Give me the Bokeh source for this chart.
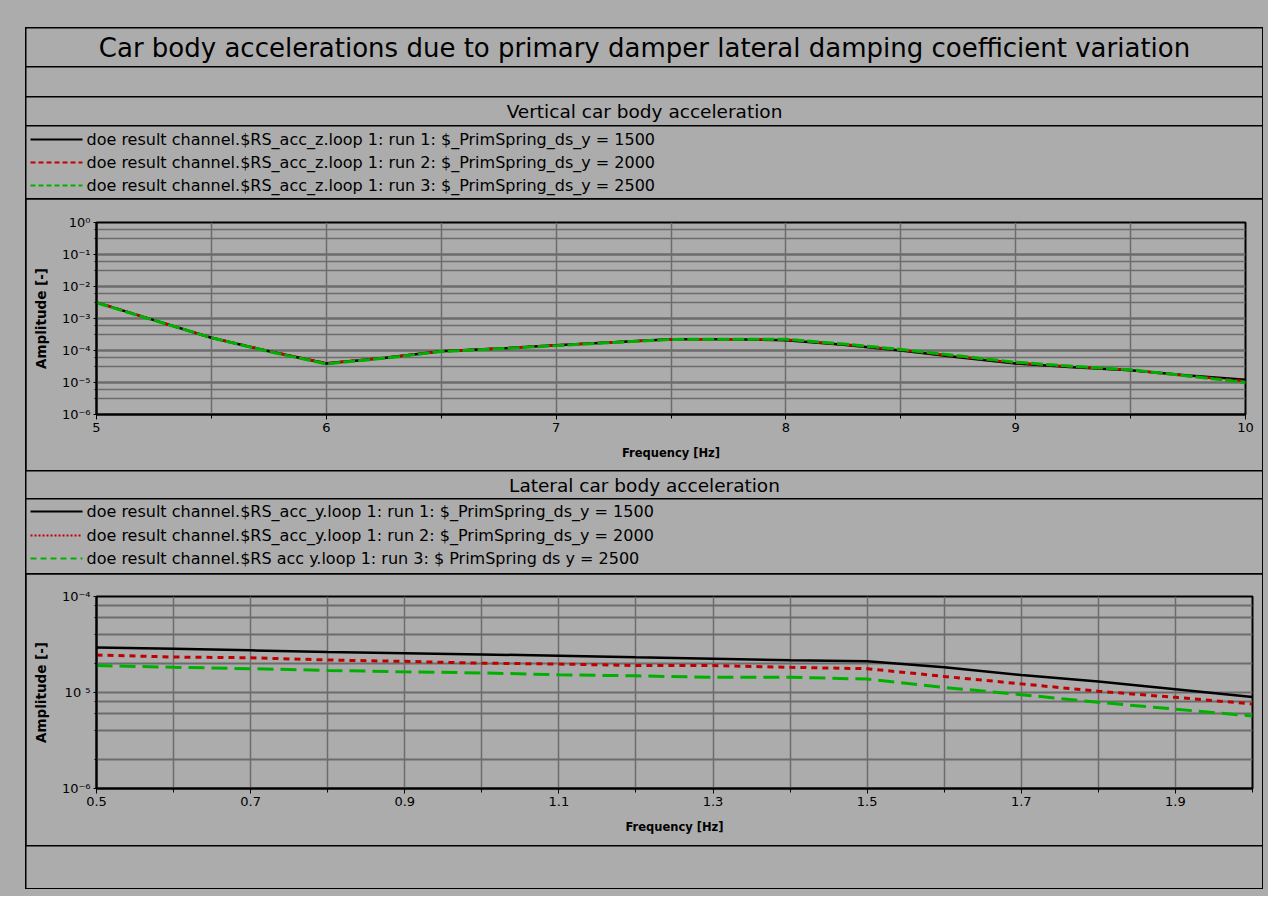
from bokeh.plotting import figure
from bokeh.models import Range1d, FixedTicker, CustomJSTickFormatter, Column
from bokeh.core.properties import value
from bokeh.embed import file_html
from bokeh.resources import INLINE

# ---------------- data ----------------
title_text = "Car body accelerations due to primary damper lateral damping coefficient variation"
sub_vertical = "Vertical car body acceleration"
sub_lateral = "Lateral car body acceleration"

legend_vertical = [
    "doe result channel.$RS_acc_z.loop 1: run 1: $_PrimSpring_ds_y = 1500",
    "doe result channel.$RS_acc_z.loop 1: run 2: $_PrimSpring_ds_y = 2000",
    "doe result channel.$RS_acc_z.loop 1: run 3: $_PrimSpring_ds_y = 2500",
]
legend_lateral = [
    "doe result channel.$RS_acc_y.loop 1: run 1: $_PrimSpring_ds_y = 1500",
    "doe result channel.$RS_acc_y.loop 1: run 2: $_PrimSpring_ds_y = 2000",
    "doe result channel.$RS acc y.loop 1: run 3: $ PrimSpring ds y = 2500",
]

freq_vertical = [5.0, 5.25, 5.5, 5.75, 6.0, 6.25, 6.5, 6.75, 7.0, 7.25, 7.5,
                 7.75, 8.0, 8.25, 8.5, 8.75, 9.0, 9.25, 9.5, 9.75, 10.0]
acc_z_1500 = [3.2e-3, 8.9e-4, 2.5e-4, 9.5e-5, 3.9e-5, 5.8e-5, 9.5e-5, 1.15e-4, 1.45e-4, 1.8e-4, 2.25e-4,
              2.25e-4, 2.1e-4, 1.5e-4, 1.0e-4, 6.2e-5, 3.9e-5, 3.0e-5, 2.4e-5, 1.65e-5, 1.23e-5]
acc_z_2000 = [3.2e-3, 8.9e-4, 2.5e-4, 9.6e-5, 4.0e-5, 5.9e-5, 9.4e-5, 1.16e-4, 1.45e-4, 1.82e-4, 2.25e-4,
              2.25e-4, 2.2e-4, 1.55e-4, 1.04e-4, 6.5e-5, 4.1e-5, 3.1e-5, 2.45e-5, 1.6e-5, 1.1e-5]
acc_z_2500 = [3.1e-3, 8.8e-4, 2.5e-4, 9.3e-5, 3.8e-5, 5.7e-5, 9.3e-5, 1.13e-4, 1.42e-4, 1.78e-4, 2.22e-4,
              2.25e-4, 2.25e-4, 1.6e-4, 1.08e-4, 6.8e-5, 4.3e-5, 3.2e-5, 2.5e-5, 1.6e-5, 1.0e-5]

freq_lateral = [0.5, 0.6, 0.7, 0.8, 0.9, 1.0, 1.1, 1.2, 1.3, 1.4, 1.5, 1.6, 1.7, 1.8, 1.9, 2.0]
acc_y_1500 = [2.95e-5, 2.85e-5, 2.75e-5, 2.64e-5, 2.56e-5, 2.49e-5, 2.42e-5, 2.33e-5,
              2.25e-5, 2.17e-5, 2.12e-5, 1.83e-5, 1.52e-5, 1.30e-5, 1.08e-5, 0.90e-5]
acc_y_2000 = [2.46e-5, 2.34e-5, 2.30e-5, 2.18e-5, 2.11e-5, 2.02e-5, 1.98e-5, 1.91e-5,
              1.91e-5, 1.83e-5, 1.77e-5, 1.47e-5, 1.23e-5, 1.03e-5, 0.89e-5, 0.76e-5]
acc_y_2500 = [1.91e-5, 1.83e-5, 1.77e-5, 1.70e-5, 1.64e-5, 1.60e-5, 1.53e-5, 1.49e-5,
              1.44e-5, 1.44e-5, 1.38e-5, 1.13e-5, 0.95e-5, 0.79e-5, 0.67e-5, 0.57e-5]

x_ticks_vertical = [5, 6, 7, 8, 9, 10]
x_minor_vertical = [5.5, 6.5, 7.5, 8.5, 9.5]
x_ticks_lateral = [0.5, 0.7, 0.9, 1.1, 1.3, 1.5, 1.7, 1.9]
x_minor_lateral = [0.6, 0.8, 1.0, 1.2, 1.4, 1.6, 1.8, 2.0]
y_exps_vertical = [-6, -5, -4, -3, -2, -1, 0]
y_labels_vertical = ["10\u207b\u2076", "10\u207b\u2075", "10\u207b\u2074", "10\u207b\u00b3",
                     "10\u207b\u00b2", "10\u207b\u00b9", "10\u2070"]
y_exps_lateral = [-6, -5, -4]
y_labels_lateral = ["10\u207b\u2076", "10 \u2075", "10\u207b\u2074"]

x_label = "Frequency [Hz]"
y_label = "Amplitude [-]"

# ---------------- style ----------------
GRAY = "#acacac"
GRID = "#6c6c6c"
BLACK = "#000000"
RED = "#c00000"
GREEN = "#00b000"
FONT = "DejaVu Sans"
W = 1236


def no_align(f):
    if "frame_align" in f.properties():
        f.frame_align = False
    return f


def band(h):
    f = figure(width=W, height=h, x_range=Range1d(0, W), y_range=Range1d(h, 0),
               x_axis_type=None, y_axis_type=None, title=None, min_border=0,
               toolbar_location=None, output_backend="svg",
               background_fill_color=GRAY, border_fill_color=GRAY)
    f.outline_line_color = None
    return no_align(f)


def legend_band(h, labels, rows, styles):
    f = band(h)
    for lab, yy, (col, dash) in zip(labels, rows, styles):
        f.line(x=[4, 56], y=[yy, yy], line_color=col, line_width=2, line_dash=dash)
        f.text(x=[60], y=[yy], text=[lab], text_font=value(FONT), text_font_size="16px",
               text_align="left", text_baseline="middle", text_color=BLACK)
    return f


def log_plot(h, xr, yr, borders, xt, xminor, yexps, ylabs, yminor, major_w):
    left, right, top, bottom = borders
    p = figure(width=W, height=h, x_range=Range1d(*xr), y_range=Range1d(*yr),
               y_axis_type="log", title=None, toolbar_location=None, output_backend="svg",
               min_border_left=left, min_border_right=right, min_border_top=top,
               min_border_bottom=bottom, background_fill_color=GRAY, border_fill_color=GRAY)
    no_align(p)
    p.outline_line_color = BLACK
    p.outline_line_width = 2
    xtick = FixedTicker(ticks=xt, minor_ticks=xminor)
    ytick = FixedTicker(ticks=[10.0 ** e for e in yexps], minor_ticks=yminor)
    p.xaxis.ticker = xtick
    p.yaxis.ticker = ytick
    p.xgrid.ticker = xtick
    p.ygrid.ticker = ytick
    p.yaxis.formatter = CustomJSTickFormatter(
        args=dict(exps=yexps, labs=ylabs),
        code="const e = Math.round(Math.log10(tick)); const i = exps.indexOf(e); return i >= 0 ? labs[i] : '';")
    for ax in (p.xaxis[0], p.yaxis[0]):
        ax.axis_line_color = BLACK
        ax.axis_line_width = 2
        ax.major_tick_line_color = BLACK
        ax.minor_tick_line_color = BLACK
        ax.major_tick_in = 0
        ax.minor_tick_in = 0
        ax.major_label_text_font = FONT
        ax.major_label_text_font_size = "13px"
        ax.major_label_text_color = BLACK
        ax.axis_label_text_font = FONT
        ax.axis_label_text_font_style = "bold"
        ax.axis_label_text_color = BLACK
    p.xaxis.axis_label_text_font_size = "11.5px"
    p.yaxis.axis_label_text_font_size = "13.5px"
    p.xaxis.major_tick_out = 5
    p.xaxis.minor_tick_out = 4
    p.xaxis.major_label_standoff = 3
    p.xaxis.axis_label = x_label
    p.xaxis.axis_label_standoff = 11
    p.yaxis.major_tick_out = 3
    p.yaxis.minor_tick_out = 2
    p.yaxis.major_label_standoff = 3
    p.yaxis.axis_label = y_label
    p.yaxis.axis_label_standoff = 10
    p.xgrid.grid_line_color = GRID
    p.xgrid.grid_line_width = 1.5
    p.xgrid.minor_grid_line_color = GRID
    p.xgrid.minor_grid_line_width = 1.5
    p.ygrid.grid_line_color = GRID
    p.ygrid.grid_line_width = major_w
    p.ygrid.minor_grid_line_color = GRID
    p.ygrid.minor_grid_line_width = 1.5
    return p


# ---------------- rows ----------------
r_title = band(38)
r_title.text(x=[W / 2], y=[19], text=[title_text], text_font=value(FONT), text_font_size="26px",
             text_align="center", text_baseline="middle", text_color=BLACK)
r_empty = band(29)
r_sub1 = band(28)
r_sub1.text(x=[W / 2], y=[14], text=[sub_vertical], text_font=value(FONT), text_font_size="18.5px",
            text_align="center", text_baseline="middle", text_color=BLACK)
r_leg1 = legend_band(72, legend_vertical, [13, 36, 59],
                     [(BLACK, "solid"), (RED, "5 3"), (GREEN, "5 3")])

minor_v = []
for e in range(-6, 0):
    minor_v += [0.32 * 10.0 ** (e + 1), 0.62 * 10.0 ** (e + 1)]
p1 = log_plot(271, (5, 10), (1e-6, 1.0), (70, 17, 23, 56), x_ticks_vertical, x_minor_vertical,
              y_exps_vertical, y_labels_vertical, minor_v, 2.5)
p1.line(freq_vertical, acc_z_1500, line_color=BLACK, line_width=2.5)
p1.line(freq_vertical, acc_z_2000, line_color=RED, line_width=2.5, line_dash="6 4")
p1.line(freq_vertical, acc_z_2500, line_color=GREEN, line_width=3, line_dash="12 3")

r_sub2 = band(27)
r_sub2.text(x=[W / 2], y=[14], text=[sub_lateral], text_font=value(FONT), text_font_size="18.5px",
            text_align="center", text_baseline="middle", text_color=BLACK)
r_leg2 = legend_band(74, legend_lateral, [12, 36, 59],
                     [(BLACK, "solid"), (RED, "2 2"), (GREEN, "6 4")])

minor_l = []
for e in (-6, -5):
    minor_l += [m * 10.0 ** e for m in (2, 4, 6, 8)]
p2 = log_plot(271, (0.5, 2.0), (1e-6, 1e-4), (70, 10, 22, 57), x_ticks_lateral, x_minor_lateral,
              y_exps_lateral, y_labels_lateral, minor_l, 2)
p2.ygrid.minor_grid_line_width = 2
p2.line(freq_lateral, acc_y_1500, line_color=BLACK, line_width=2.5)
p2.line(freq_lateral, acc_y_2000, line_color=RED, line_width=3, line_dash="6 5")
p2.line(freq_lateral, acc_y_2500, line_color=GREEN, line_width=3, line_dash="16 7")

r_foot = band(42)

frame = Column(children=[r_title, r_empty, r_sub1, r_leg1, p1, r_sub2, r_leg2, p2, r_foot],
               spacing=1, styles={"background-color": "#000000", "padding": "1px"})
page = Column(children=[frame],
              styles={"background-color": GRAY, "padding": "27px 5px 7px 25px"})

open("out.html", "w").write(file_html(page, INLINE))
